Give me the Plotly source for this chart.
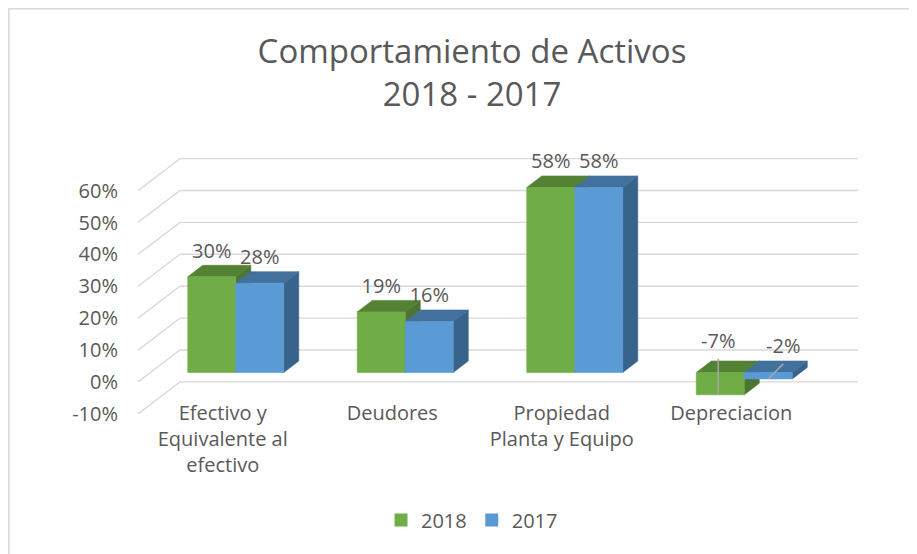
import plotly.graph_objects as go

# ---------------- data ----------------
categories = ["Efectivo y<br>Equivalente al<br>efectivo", "Deudores",
              "Propiedad<br>Planta y Equipo", "Depreciacion"]
series_names = ["2018", "2017"]
values_2018 = [30, 19, 58, -7]
values_2017 = [28, 16, 58, -2]
y_tick_values = [-10, 0, 10, 20, 30, 40, 50, 60]

# ---------------- style / geometry ----------------
FONT = "Open Sans, Liberation Sans, Arial, sans-serif"
TXT = "#595959"
GRID = "#d9d9d9"
FRONT = ["#70AD47", "#5B9BD5"]
TOP = ["#548235", "#41719C"]
SIDE = ["#4B7530", "#38638A"]

OFF = 8                           # page body margin
W, H = 917 - OFF, 554 - OFF
PLOT_TOP_PAGE = 140
ML, MR, MT, MB = 138 - OFF, 59, PLOT_TOP_PAGE - OFF, 124
PW, PH = W - ML - MR, H - MT - MB
PX_PER_PCT = 3.19
Y_ZERO_PX = 382 - PLOT_TOP_PAGE   # distance from top of plot to 0%
Y_TOP = Y_ZERO_PX / PX_PER_PCT
Y_BOT = -(PH - Y_ZERO_PX) / PX_PER_PCT

BACK_DX = 42                     # px (x data units are px)
BACK_DY = 32 / PX_PER_PCT        # in %
PLANE_DX = 13
PLANE_DY = 9.5 / PX_PER_PCT
BAR_W = 48
BAR_DX = 15
BAR_DY = 11.5 / PX_PER_PCT
LABEL_UP = 24 / PX_PER_PCT
FLOOR_W = 678
LABEL_NUDGE = {(3, 0): (-2, 9.2), (3, 1): (15, 7.7)}

n = len(categories)
cat_w = FLOOR_W / n
centers = [cat_w * (i + 0.5) for i in range(n)]

fig = go.Figure()

# back wall / side wall gridlines
gx, gy = [], []
for v in y_tick_values:
    gx += [0, BACK_DX, PW, None]
    gy += [v, v + BACK_DY, v + BACK_DY, None]
fig.add_trace(go.Scatter(x=gx, y=gy, mode="lines", line=dict(color=GRID, width=1.4),
                         hoverinfo="skip", showlegend=False))

all_vals = [values_2018, values_2017]
label_x, label_y, label_t = [], [], []
leader_x, leader_y = [], []
for s, vals in enumerate(all_vals):
    fx, fy, tx, ty, sx, sy = [], [], [], [], [], []
    for i, v in enumerate(vals):
        x0 = centers[i] + PLANE_DX - BAR_W + s * BAR_W
        x1 = x0 + BAR_W
        ylo = PLANE_DY + min(0, v)
        yhi = PLANE_DY + max(0, v)
        fx += [x0, x1, x1, x0, x0, None]
        fy += [ylo, ylo, yhi, yhi, ylo, None]
        tx += [x0, x1, x1 + BAR_DX, x0 + BAR_DX, x0, None]
        ty += [yhi, yhi, yhi + BAR_DY, yhi + BAR_DY, yhi, None]
        sx += [x1, x1 + BAR_DX, x1 + BAR_DX, x1, x1, None]
        sy += [ylo, ylo + BAR_DY, yhi + BAR_DY, yhi, ylo, None]
        xc = (x0 + x1) / 2
        if (i, s) in LABEL_NUDGE:
            ndx, ndy = LABEL_NUDGE[(i, s)]
            lx, ly = xc + ndx, yhi + ndy
            leader_x += [xc if s == 1 else lx, lx, None]
            leader_y += [ylo, ly - 5, None]
        else:
            lx, ly = xc, yhi + LABEL_UP
        label_x.append(lx)
        label_y.append(ly)
        label_t.append(f"{v}%")
    for xs, ys, col in ((sx, sy, SIDE[s]), (tx, ty, TOP[s]), (fx, fy, FRONT[s])):
        fig.add_trace(go.Scatter(x=xs, y=ys, mode="lines", fill="toself", fillcolor=col,
                                 line=dict(width=0.6, color=col), hoverinfo="skip",
                                 showlegend=False))

fig.add_trace(go.Scatter(x=leader_x, y=leader_y, mode="lines",
                         line=dict(color="#a6a6a6", width=1.5), hoverinfo="skip",
                         showlegend=False))
fig.add_trace(go.Scatter(x=label_x, y=label_y, mode="text", text=label_t,
                         textposition="middle center",
                         textfont=dict(family=FONT, size=20, color=TXT),
                         hoverinfo="skip", showlegend=False))

# legend entries
for s, name in enumerate(series_names):
    fig.add_trace(go.Scatter(x=[None], y=[None], mode="markers", name=name,
                             marker=dict(symbol="square", size=13, color=FRONT[s])))

axis_pos = (PH - (399 - PLOT_TOP_PAGE)) / PH
fig.update_layout(
    width=W, height=H,
    margin=dict(l=ML, r=MR, t=MT, b=MB),
    paper_bgcolor="white", plot_bgcolor="white",
    font=dict(family=FONT, size=20, color=TXT),
    title=dict(text="Comportamiento de Activos<br>2018 - 2017",
               x=(472 - OFF) / W, xanchor="center", xref="container",
               y=1 - 55 / H, yanchor="top", yref="container",
               font=dict(family=FONT, size=33, color=TXT)),
    xaxis=dict(range=[0, PW], tickvals=centers, ticktext=categories,
               showgrid=False, zeroline=False, showline=False,
               anchor="free", position=axis_pos, ticks="",
               tickfont=dict(family=FONT, size=20, color=TXT)),
    yaxis=dict(range=[Y_BOT, Y_TOP], tickvals=y_tick_values,
               ticktext=[f"{v}%" for v in y_tick_values],
               showgrid=False, zeroline=False, showline=False,
               ticks="outside", ticklen=15, tickcolor="rgba(0,0,0,0)",
               tickfont=dict(family=FONT, size=20, color=TXT)),
    legend=dict(orientation="h", x=(472 - 138) / PW, xanchor="center",
                y=-(520 - 430) / PH, yanchor="middle",
                font=dict(family=FONT, size=20, color=TXT),
                itemwidth=30, tracegroupgap=0),
    shapes=[dict(type="path", xref="paper", yref="paper",
                 path=f"M {(0.8 - ML) / PW} {-MB / PH} L {(0.8 - ML) / PW} {(PH + MT - 0.8) / PH} "
                      f"L {(W - ML) / PW} {(PH + MT - 0.8) / PH}",
                 line=dict(color="#d9d9d9", width=1.6))],
    showlegend=True,
)

fig.write_html("out.html")
